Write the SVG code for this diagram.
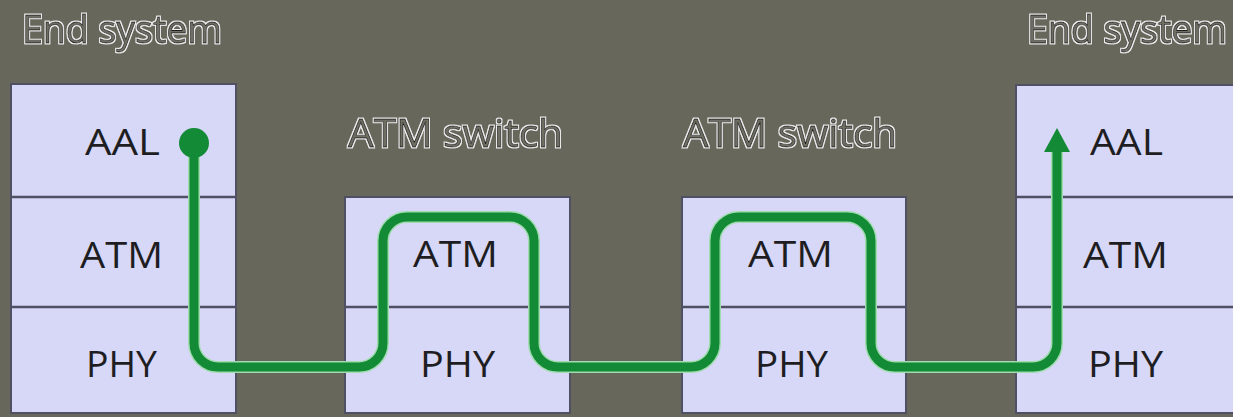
<svg xmlns="http://www.w3.org/2000/svg" width="1233" height="417" viewBox="0 0 1233 417">
<defs>
<style>
.box{fill:#d7d7f8;stroke:#505064;stroke-width:2}
.div{stroke:#505064;stroke-width:2.5}
.lbl{font-family:"Open Sans","Noto Sans",sans-serif;font-size:36px;fill:#1e1e22}
.ttl{font-family:"Open Sans","Noto Sans",sans-serif;font-size:38px;fill:#6e6e62;stroke:#1a1a1a;stroke-width:0.8;filter:url(#halo)}
.halo{fill:none;stroke:#9fdcae;stroke-width:12;stroke-linejoin:round}
.wire{fill:none;stroke:#138a36;stroke-width:9;stroke-linejoin:round}
</style>
<filter id="halo" x="-5%" y="-25%" width="110%" height="150%">
<feMorphology in="SourceAlpha" operator="dilate" radius="1.1" result="d"/>
<feFlood flood-color="#f2f2f2"/>
<feComposite in2="d" operator="in" result="w"/>
<feMerge><feMergeNode in="w"/><feMergeNode in="SourceGraphic"/></feMerge>
</filter>
</defs>
<rect width="1233" height="417" fill="#67675b"/>

<g id="end-system-left">
<rect class="box" x="11" y="84" width="225" height="329"/>
<line class="div" x1="11" y1="197" x2="236" y2="197"/>
<line class="div" x1="11" y1="307" x2="236" y2="307"/>
<text class="ttl" x="22" y="43" textLength="200" lengthAdjust="spacingAndGlyphs">End system</text>
<text class="lbl" x="85" y="155" textLength="75" lengthAdjust="spacingAndGlyphs">AAL</text>
<text class="lbl" x="80" y="268" textLength="83" lengthAdjust="spacingAndGlyphs">ATM</text>
<text class="lbl" x="86" y="377" textLength="71" lengthAdjust="spacingAndGlyphs">PHY</text>
</g>

<g id="atm-switch-1">
<rect class="box" x="345" y="197" width="225" height="216"/>
<line class="div" x1="345" y1="307" x2="570" y2="307"/>
<text class="ttl" x="348" y="147" textLength="215" lengthAdjust="spacingAndGlyphs">ATM switch</text>
<text class="lbl" x="413" y="267" textLength="85" lengthAdjust="spacingAndGlyphs">ATM</text>
<text class="lbl" x="420" y="377" textLength="75" lengthAdjust="spacingAndGlyphs">PHY</text>
</g>

<g id="atm-switch-2">
<rect class="box" x="682" y="197" width="224" height="216"/>
<line class="div" x1="682" y1="307" x2="906" y2="307"/>
<text class="ttl" x="683" y="147" textLength="214" lengthAdjust="spacingAndGlyphs">ATM switch</text>
<text class="lbl" x="748" y="267" textLength="85" lengthAdjust="spacingAndGlyphs">ATM</text>
<text class="lbl" x="755" y="377" textLength="73" lengthAdjust="spacingAndGlyphs">PHY</text>
</g>

<g id="end-system-right">
<rect class="box" x="1016" y="85" width="230" height="328"/>
<line class="div" x1="1016" y1="197" x2="1246" y2="197"/>
<line class="div" x1="1016" y1="307" x2="1246" y2="307"/>
<text class="ttl" x="1027" y="43" textLength="200" lengthAdjust="spacingAndGlyphs">End system</text>
<text class="lbl" x="1090" y="155" textLength="73" lengthAdjust="spacingAndGlyphs">AAL</text>
<text class="lbl" x="1083" y="268" textLength="85" lengthAdjust="spacingAndGlyphs">ATM</text>
<text class="lbl" x="1088" y="377" textLength="75" lengthAdjust="spacingAndGlyphs">PHY</text>
</g>

<g id="connectors">
<path class="halo" d="M194,143 V343 A24,24 0 0 0 218,367 H359 A24,24 0 0 0 383,343 V241 A24,24 0 0 1 407,217 H510 A24,24 0 0 1 534,241 V343 A24,24 0 0 0 558,367 H691 A24,24 0 0 0 715,343 V241 A24,24 0 0 1 739,217 H847 A24,24 0 0 1 871,241 V343 A24,24 0 0 0 895,367 H1033 A24,24 0 0 0 1057,343 V150"/>
<path class="wire" d="M194,143 V343 A24,24 0 0 0 218,367 H359 A24,24 0 0 0 383,343 V241 A24,24 0 0 1 407,217 H510 A24,24 0 0 1 534,241 V343 A24,24 0 0 0 558,367 H691 A24,24 0 0 0 715,343 V241 A24,24 0 0 1 739,217 H847 A24,24 0 0 1 871,241 V343 A24,24 0 0 0 895,367 H1033 A24,24 0 0 0 1057,343 V150"/>
<circle cx="194" cy="143" r="15" fill="#138a36"/>
<polygon points="1057,128 1044,152 1070,152" fill="#138a36"/>
</g>
</svg>
